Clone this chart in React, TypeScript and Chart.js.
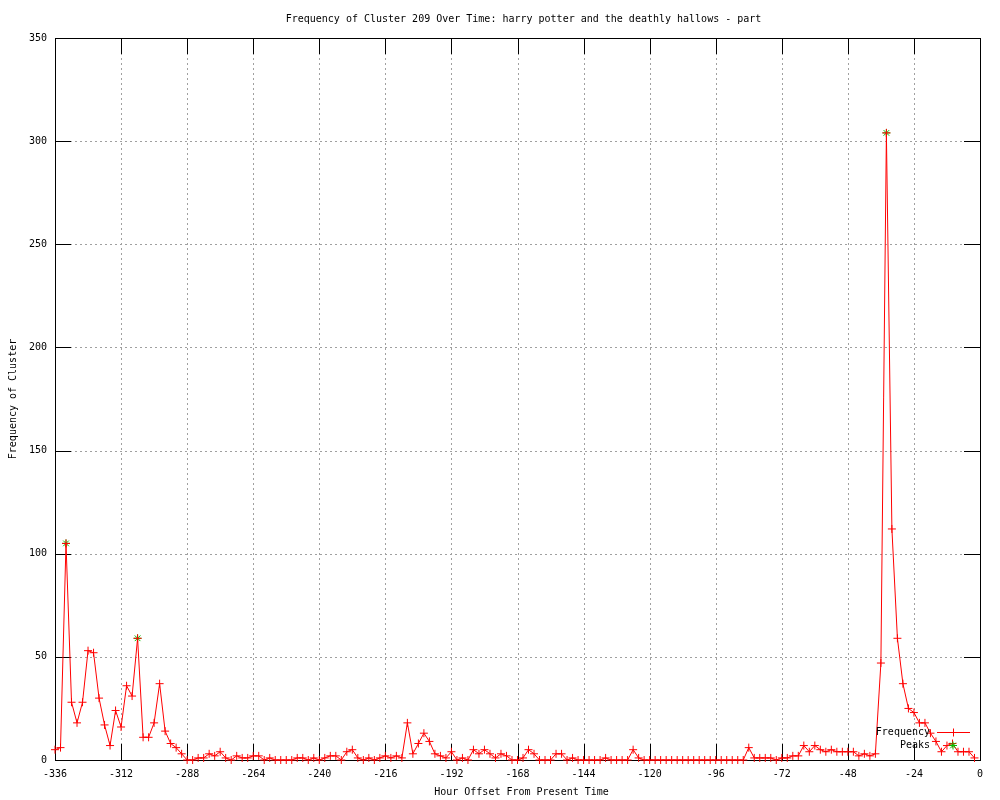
import React, { useEffect, useRef } from "react";
import { Chart, registerables } from "chart.js";

Chart.register(...registerables);

const TITLE = "Frequency of Cluster 209 Over Time: harry potter and the deathly hallows - part";
const X_LABEL = "Hour Offset From Present Time";
const Y_LABEL = "Frequency of Cluster";
const SERIES_NAMES = ["Frequency", "Peaks"];

const FIRST_HOUR = -336;
const HOUR_STEP = 2;

// frequency per 2-hour step, from -336 to -2
const frequency = [
  5, 6, 105, 28, 18, 28, 53, 52, 30, 17, 7, 24, 16, 36, 31, 59, 11, 11, 18, 37,
  14, 8, 6, 3, 0, 0, 1, 1, 3, 2, 4, 1, 0, 2, 1, 1, 2, 2, 0, 1,
  0, 0, 0, 0, 1, 1, 0, 1, 0, 1, 2, 2, 0, 4, 5, 1, 0, 1, 0, 1,
  2, 1, 2, 1, 18, 3, 8, 13, 9, 3, 2, 1, 4, 0, 1, 0, 5, 3, 5, 3,
  1, 3, 2, 0, 0, 1, 5, 3, 0, 0, 0, 3, 3, 0, 1, 0, 0, 0, 0, 0,
  1, 0, 0, 0, 0, 5, 1, 0, 0, 0, 0, 0, 0, 0, 0, 0, 0, 0, 0, 0,
  0, 0, 0, 0, 0, 0, 6, 1, 1, 1, 1, 0, 1, 1, 2, 2, 7, 4, 7, 5,
  4, 5, 4, 4, 4, 4, 2, 3, 2, 3, 47, 304, 112, 59, 37, 25, 23, 18, 18, 13,
  9, 4, 7, 8, 4, 4, 4, 1,
];

const peakHours = [-332, -306, -34];
const peakValues = [105, 59, 304];

const xTicks = [-336, -312, -288, -264, -240, -216, -192, -168, -144, -120, -96, -72, -48, -24, 0];
const yTicks = [0, 50, 100, 150, 200, 250, 300, 350];

const FONT_FAMILY = '"DejaVu Sans Mono", "Liberation Mono", monospace';
const RED = "#ff0000";
const GREEN = "#00c000";

const framePlugin = {
  id: "gnuplotFrame",
  beforeDatasetsDraw(chart: any) {
    const { ctx, chartArea } = chart;
    const { left, right, top, bottom } = chartArea;
    const xs = chart.scales.x;
    const ys = chart.scales.y;
    ctx.save();
    // dotted grid
    ctx.strokeStyle = "#a0a0a0";
    ctx.lineWidth = 1;
    ctx.setLineDash([2, 3]);
    xTicks.forEach((v) => {
      if (v === xTicks[0] || v === xTicks[xTicks.length - 1]) return;
      const px = Math.round(xs.getPixelForValue(v)) + 0.5;
      ctx.beginPath();
      ctx.moveTo(px, top);
      ctx.lineTo(px, bottom);
      ctx.stroke();
    });
    yTicks.forEach((v) => {
      if (v === yTicks[0] || v === yTicks[yTicks.length - 1]) return;
      const py = Math.round(ys.getPixelForValue(v)) + 0.5;
      ctx.beginPath();
      ctx.moveTo(left, py);
      ctx.lineTo(right, py);
      ctx.stroke();
    });
    ctx.setLineDash([]);
    // border
    ctx.strokeStyle = "#000000";
    ctx.lineWidth = 1;
    ctx.strokeRect(Math.round(left) + 0.5, Math.round(top) + 0.5, Math.round(right - left), Math.round(bottom - top));
    // inward ticks on all four sides
    const TL = 16;
    ctx.beginPath();
    xTicks.forEach((v) => {
      const px = Math.round(xs.getPixelForValue(v)) + 0.5;
      ctx.moveTo(px, bottom);
      ctx.lineTo(px, bottom - TL);
      ctx.moveTo(px, top);
      ctx.lineTo(px, top + TL);
    });
    yTicks.forEach((v) => {
      const py = Math.round(ys.getPixelForValue(v)) + 0.5;
      ctx.moveTo(left, py);
      ctx.lineTo(left + TL, py);
      ctx.moveTo(right, py);
      ctx.lineTo(right - TL, py);
    });
    ctx.stroke();
    ctx.restore();
  },
  afterDraw(chart: any) {
    const { ctx, chartArea } = chart;
    const cx = (chartArea.left + chartArea.right) / 2 + 2;
    const cy = (chartArea.top + chartArea.bottom) / 2;
    ctx.save();
    ctx.fillStyle = "#000000";
    ctx.font = `10px ${FONT_FAMILY}`;
    ctx.textAlign = "center";
    ctx.textBaseline = "middle";
    ctx.fillText(TITLE, cx + 4, 19);
    ctx.fillText(X_LABEL, cx + 2, 792);
    ctx.save();
    ctx.translate(13, cy);
    ctx.rotate(-Math.PI / 2);
    ctx.fillText(Y_LABEL, 0, 0);
    ctx.restore();

    // legend (gnuplot key, bottom right)
    const textRight = 930;
    const sampleL = 937;
    const sampleR = 970;
    const sampleC = 953;
    const y1 = 732.5;
    const y2 = 745.5;
    ctx.textAlign = "right";
    ctx.fillText(SERIES_NAMES[0], textRight, y1);
    ctx.fillText(SERIES_NAMES[1], textRight, y2);
    ctx.strokeStyle = RED;
    ctx.lineWidth = 1;
    ctx.beginPath();
    ctx.moveTo(sampleL, y1);
    ctx.lineTo(sampleR, y1);
    ctx.moveTo(sampleC + 0.5, y1 - 4);
    ctx.lineTo(sampleC + 0.5, y1 + 4);
    ctx.stroke();
    ctx.strokeStyle = GREEN;
    ctx.beginPath();
    const r = 4;
    ctx.moveTo(sampleC - r, y2);
    ctx.lineTo(sampleC + r, y2);
    ctx.moveTo(sampleC, y2 - r);
    ctx.lineTo(sampleC, y2 + r);
    const d = r * 0.7071;
    ctx.moveTo(sampleC - d, y2 - d);
    ctx.lineTo(sampleC + d, y2 + d);
    ctx.moveTo(sampleC - d, y2 + d);
    ctx.lineTo(sampleC + d, y2 - d);
    ctx.stroke();
    ctx.restore();
  },
};

export default function App() {
  const canvasRef = useRef<HTMLCanvasElement | null>(null);

  useEffect(() => {
    const canvas = canvasRef.current;
    if (!canvas) return;
    const hours = frequency.map((_, i) => FIRST_HOUR + i * HOUR_STEP);
    const freqData = frequency.map((v, i) => ({ x: hours[i], y: v }));
    const peakData = peakValues.map((v, i) => ({ x: peakHours[i], y: v }));

    const chart = new Chart(canvas, {
      type: "line",
      data: {
        datasets: [
          {
            label: SERIES_NAMES[0],
            data: freqData,
            borderColor: RED,
            backgroundColor: RED,
            borderWidth: 1,
            pointStyle: "cross",
            pointRadius: 4,
            pointBorderWidth: 1,
            pointBorderColor: RED,
            pointHoverRadius: 4,
            tension: 0,
            fill: false,
            clip: false,
          },
          {
            label: SERIES_NAMES[1],
            data: peakData,
            showLine: false,
            borderColor: GREEN,
            backgroundColor: GREEN,
            pointStyle: "star",
            pointRadius: 4,
            pointBorderWidth: 1,
            pointBorderColor: GREEN,
            clip: false,
          },
        ],
      },
      options: {
        responsive: false,
        animation: false,
        events: [],
        layout: { padding: { top: 38, right: 20, left: 0, bottom: 0 } },
        plugins: {
          legend: { display: false },
          title: { display: false },
          tooltip: { enabled: false },
        },
        scales: {
          x: {
            type: "linear",
            min: -336,
            max: 0,
            afterBuildTicks: (scale: any) => {
              scale.ticks = xTicks.map((v) => ({ value: v }));
            },
            afterFit: (scale: any) => {
              scale.height = 40;
            },
            grid: { display: false, drawTicks: false },
            border: { display: false },
            ticks: {
              autoSkip: false,
              maxRotation: 0,
              padding: 8,
              color: "#000000",
              font: { family: FONT_FAMILY, size: 10 },
            },
          },
          y: {
            type: "linear",
            min: 0,
            max: 350,
            afterBuildTicks: (scale: any) => {
              scale.ticks = yTicks.map((v) => ({ value: v }));
            },
            afterFit: (scale: any) => {
              scale.width = 55;
            },
            grid: { display: false, drawTicks: false },
            border: { display: false },
            ticks: {
              autoSkip: false,
              padding: 8,
              color: "#000000",
              font: { family: FONT_FAMILY, size: 10 },
            },
          },
        },
      },
      plugins: [framePlugin],
    });
    return () => chart.destroy();
  }, []);

  return (
    <div style={{ position: "absolute", left: 0, top: 0, width: 1000, height: 800, background: "#ffffff" }}>
      <canvas ref={canvasRef} width={1000} height={800} style={{ display: "block" }} />
    </div>
  );
}
